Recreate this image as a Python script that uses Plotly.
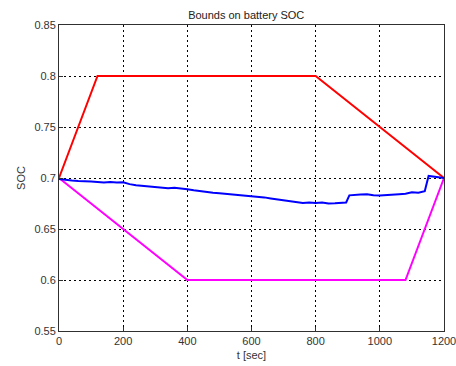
import plotly.graph_objects as go

upper_t = [0, 120, 800, 1200]
upper_soc = [0.7, 0.8, 0.8, 0.7]
lower_t = [0, 400, 1080, 1200]
lower_soc = [0.7, 0.6, 0.6, 0.7]

soc_t = [0, 20, 40, 60, 80, 100, 120, 140, 160, 180, 200, 220, 240, 260, 280, 300,
         320, 340, 360, 380, 400, 420, 440, 460, 480, 500, 520, 540, 560, 580, 600,
         620, 640, 660, 680, 700, 720, 740, 760, 780, 800, 820, 840, 860, 880, 895,
         905, 920, 940, 960, 980, 1000, 1020, 1040, 1060, 1080, 1100, 1120, 1140,
         1152, 1170, 1185, 1200]
soc = [0.699, 0.698, 0.6975, 0.697, 0.697, 0.6965, 0.696, 0.6955, 0.696, 0.6955,
       0.6958, 0.694, 0.693, 0.6925, 0.692, 0.6915, 0.691, 0.690, 0.6905, 0.690,
       0.689, 0.688, 0.687, 0.6865, 0.6855, 0.685, 0.6845, 0.684, 0.6835, 0.683,
       0.6825, 0.682, 0.681, 0.680, 0.679, 0.678, 0.677, 0.676, 0.6755, 0.676,
       0.6755, 0.676, 0.675, 0.6752, 0.6758, 0.676, 0.683, 0.6835, 0.6838, 0.684,
       0.683, 0.6828, 0.683, 0.6835, 0.684, 0.6845, 0.686, 0.6855, 0.687, 0.702,
       0.7015, 0.701, 0.700]

x_ticks = [0, 200, 400, 600, 800, 1000, 1200]
y_ticks = [0.55, 0.6, 0.65, 0.7, 0.75, 0.8, 0.85]
y_labels = ["0.55", "0.6", "0.65", "0.7", "0.75", "0.8", "0.85"]

FONT = "Liberation Sans, Arial"

fig = go.Figure()
fig.add_trace(go.Scatter(x=upper_t, y=upper_soc, mode="lines",
                         line=dict(color="#ff0000", width=2)))
fig.add_trace(go.Scatter(x=lower_t, y=lower_soc, mode="lines",
                         line=dict(color="#ff00ff", width=2)))
fig.add_trace(go.Scatter(x=soc_t, y=soc, mode="lines",
                         line=dict(color="#0000ff", width=2)))

axis_common = dict(showline=True, linecolor="#303030", linewidth=1, mirror=True,
                   showgrid=True, gridcolor="#000000", griddash="2px,3px", gridwidth=1,
                   zeroline=False, ticks="inside", ticklen=4, tickcolor="#303030",
                   automargin=False, ticklabeloverflow="allow",
                   tickfont=dict(family=FONT, size=11, color="#333333"))

fig.update_layout(
    width=456, height=366,
    margin=dict(l=59, r=12, t=25, b=35),
    paper_bgcolor="white", plot_bgcolor="white",
    showlegend=False,
    title=dict(text="Bounds on battery SOC", x=0.54, xanchor="center",
               y=0.958, yanchor="middle", automargin=False,
               font=dict(family=FONT, size=11, color="#222222")),
    xaxis=dict(range=[0, 1200], tickvals=x_ticks,
               title=dict(text="t [sec]", standoff=5,
                          font=dict(family=FONT, size=11, color="#333333")),
               **axis_common),
    yaxis=dict(range=[0.55, 0.85], tickvals=y_ticks, ticktext=y_labels,
               title=dict(text="SOC", standoff=6,
                          font=dict(family=FONT, size=11, color="#333333")),
               **axis_common),
)

fig.write_html("out.html", config={"displayModeBar": False},
               post_script="document.body.style.margin='0';document.body.style.padding='0';")
